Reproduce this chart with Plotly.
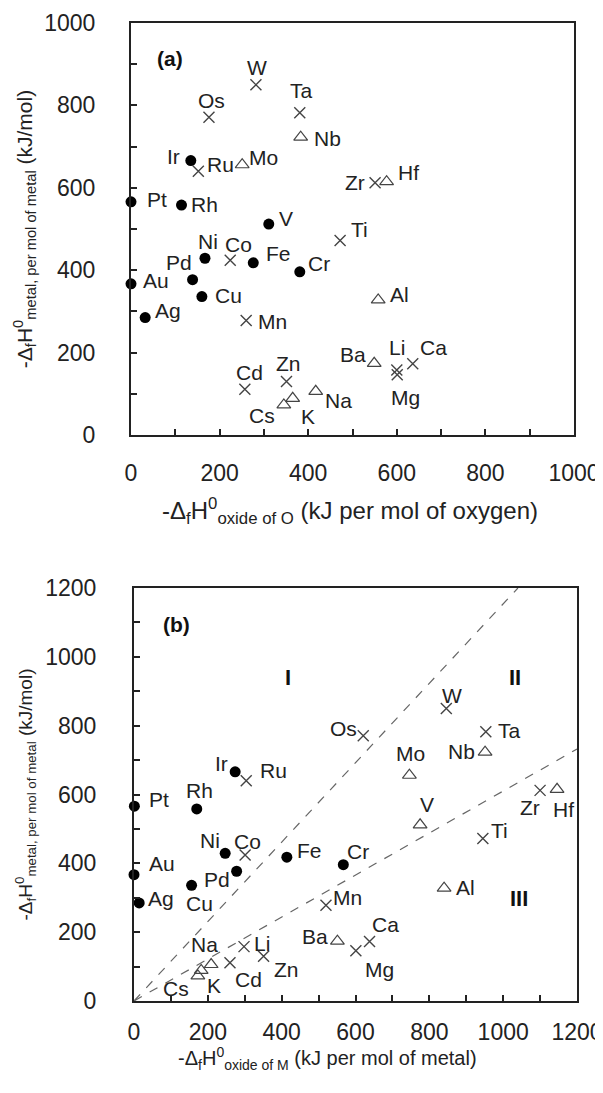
import plotly.graph_objects as go

# ---------------- data ----------------
elements = ["W", "Os", "Ta", "Nb", "Ir", "Ru", "Mo", "Pt", "Rh", "V", "Ti", "Zr", "Hf",
            "Ni", "Co", "Fe", "Cr", "Au", "Pd", "Cu", "Ag", "Mn", "Cd", "Zn",
            "Cs", "K", "Na", "Al", "Ba", "Li", "Mg", "Ca"]
# -dfH0 metal, per mol of metal (kJ/mol)
dh_metal = [850, 771, 782, 723, 666, 640, 656, 566, 558, 512, 472, 612, 615,
            429, 424, 418, 396, 367, 377, 336, 285, 278, 111, 130,
            73, 89, 106, 328, 174, 158, 146, 173]
# -dfH0 oxide, per mol of oxygen (panel a)
dh_oxide_per_O = [282, 176, 381, 383, 135, 152, 251, 0, 114, 311, 472, 551, 577,
                  167, 224, 276, 381, 0, 139, 160, 32, 260, 257, 351,
                  345, 365, 417, 558, 549, 600, 601, 636]
# -dfH0 oxide, per mol of metal (panel b)
dh_oxide_per_M = [846, 621, 953, 951, 274, 304, 746, 1, 170, 775, 945, 1100, 1146,
                  247, 301, 414, 567, 0, 278, 156, 14, 520, 260, 351,
                  173, 182, 209, 840, 551, 298, 601, 638]

circle_a = ["Pt", "Rh", "Ir", "Ni", "Pd", "Au", "Ag", "Cu", "Fe", "Cr", "V"]
cross_a = ["W", "Os", "Ta", "Ru", "Zr", "Ti", "Co", "Mn", "Cd", "Zn", "Li", "Mg", "Ca"]
tri_a = ["Nb", "Mo", "Hf", "Al", "Ba", "Cs", "K", "Na"]
circle_b = ["Pt", "Rh", "Ir", "Ni", "Pd", "Au", "Ag", "Cu", "Fe", "Cr"]
cross_b = cross_a
tri_b = ["Nb", "Mo", "Hf", "Al", "Ba", "Cs", "K", "Na", "V"]

# boundary lines in panel b
line1_x = [0, 1040]
line1_y = [0, 1200]
line2_x = [0, 1200]
line2_y = [0, 732]

region_labels = ["I", "II", "III"]
region_x = [417, 1032, 1044]
region_y = [939, 939, 299]

# ---------------- label offsets (px) ----------------
off_a = {"W": (1, -17), "Os": (3, -17), "Ta": (2, -22), "Nb": (27, 1), "Ir": (-17, -4),
         "Ru": (22, -7), "Mo": (21, -7), "Pt": (26, -2), "Rh": (23, -1), "V": (17, -6),
         "Ti": (19, -11), "Zr": (-20, 0), "Hf": (22, -9), "Ni": (3, -17), "Co": (8, -16),
         "Fe": (25, -9), "Cr": (19, -8), "Pd": (-14, -17), "Au": (25, -3), "Cu": (27, -1),
         "Ag": (23, -7), "Mn": (26, 1), "Cd": (5, -17), "Zn": (2, -18), "Cs": (-22, 11),
         "K": (15, 18), "Na": (23, 9), "Al": (21, -5), "Ba": (-21, -9), "Li": (0, -22),
         "Mg": (8, 23), "Ca": (21, -16)}
off_b = {"Ir": (-14, -8), "Ru": (27, -10), "Pt": (25, -7), "Rh": (3, -18), "Os": (-20, -7),
         "W": (6, -13), "Ta": (24, -1), "Nb": (-24, -1), "Mo": (1, -22), "V": (7, -20),
         "Zr": (-10, 17), "Hf": (6, 20), "Cr": (15, -13), "Ti": (17, -8), "Al": (21, -1),
         "Mn": (22, -8), "Ca": (16, -17), "Mg": (24, 19), "Ba": (-22, -5), "Ni": (-15, -13),
         "Co": (2, -14), "Fe": (23, -7), "Au": (28, -11), "Pd": (-20, 8), "Cu": (8, 18),
         "Ag": (22, -4), "Na": (-7, -20), "Li": (18, -3), "Zn": (23, 13), "Cd": (19, 17),
         "K": (13, 15), "Cs": (-22, 13)}

FONT = "Liberation Sans, Arial, sans-serif"
TXT = "#222222"
W, H = 603, 1093
OFF = 8  # page body margin in the browser


def px_x(sx):
    return (sx - OFF) / W


def px_y(sy):
    return 1 - (sy - OFF) / H


fig = go.Figure()

styles = {
    "circle": dict(symbol="circle", size=11, color="black", line=dict(width=0)),
    "cross": dict(symbol="x-thin-open", size=11, color="#444444", line=dict(width=1.4, color="#444444")),
    "tri": dict(symbol="triangle-up-open", size=12, color="#444444", line=dict(width=1.2, color="#444444")),
}


def add_group(names, xs, xref, yref):
    for kind, group in names:
        idx = [elements.index(n) for n in group]
        fig.add_trace(go.Scatter(
            x=[xs[i] for i in idx], y=[dh_metal[i] for i in idx],
            mode="markers", marker=styles[kind], xaxis=xref, yaxis=yref,
            cliponaxis=False, showlegend=False, hoverinfo="skip"))


add_group([("circle", circle_a), ("cross", cross_a), ("tri", tri_a)], dh_oxide_per_O, "x", "y")

fig.add_trace(go.Scatter(x=line1_x, y=line1_y, mode="lines", xaxis="x2", yaxis="y2",
                         line=dict(color="#666666", width=1.2, dash="dash"), showlegend=False))
fig.add_trace(go.Scatter(x=line2_x, y=line2_y, mode="lines", xaxis="x2", yaxis="y2",
                         line=dict(color="#666666", width=1.2, dash="dash"), showlegend=False))
add_group([("circle", circle_b), ("cross", cross_b), ("tri", tri_b)], dh_oxide_per_M, "x2", "y2")

ann = []
for i, n in enumerate(elements):
    dx, dy = off_a[n]
    ann.append(dict(x=dh_oxide_per_O[i], y=dh_metal[i], xref="x", yref="y", text=n,
                    showarrow=False, xshift=dx, yshift=-dy, font=dict(size=21, color=TXT)))
    dx, dy = off_b[n]
    ann.append(dict(x=dh_oxide_per_M[i], y=dh_metal[i], xref="x2", yref="y2", text=n,
                    showarrow=False, xshift=dx, yshift=-dy, font=dict(size=21, color=TXT)))

for t, rx, ry in zip(region_labels, region_x, region_y):
    ann.append(dict(x=rx, y=ry, xref="x2", yref="y2", text="<b>%s</b>" % t, showarrow=False,
                    font=dict(size=22, color="#111111")))

ann.append(dict(x=88, y=915, xref="x", yref="y", text="<b>(a)</b>", showarrow=False,
                font=dict(size=21, color="#111111")))
ann.append(dict(x=114, y=1093, xref="x2", yref="y2", text="<b>(b)</b>", showarrow=False,
                font=dict(size=21, color="#111111")))

# x axis titles
ann.append(dict(x=px_x(350), y=px_y(511), xref="paper", yref="paper", showarrow=False,
                text="-Δ<sub>f</sub>H<sup>0</sup><sub>oxide of O</sub> (kJ per mol of oxygen)",
                font=dict(size=24, color=TXT)))
ann.append(dict(x=px_x(327), y=px_y(1075), xref="paper", yref="paper", showarrow=False,
                text="-Δ<sub>f</sub>H<sup>0</sup><sub>oxide of M</sub> (kJ per mol of metal)",
                font=dict(size=20, color=TXT)))
ytitle = "-Δ<sub>f</sub>H<sup>0</sup><sub>metal, per mol of metal</sub> (kJ/mol)"

axis_common = dict(showline=True, linewidth=2, linecolor="#222222", mirror=True, automargin=False,
                   showgrid=False, zeroline=False, ticks="inside", ticklen=6, tickwidth=1.5,
                   tickcolor="#222222", dtick=200,
                   minor=dict(dtick=100, ticks="inside", ticklen=6, tickwidth=1.5, tickcolor="#222222"),
                   tickfont=dict(size=23, color=TXT, family=FONT))

fig.update_layout(
    width=W, height=H, autosize=False,
    margin=dict(l=0, r=0, t=0, b=0, autoexpand=False),
    paper_bgcolor="white", plot_bgcolor="white",
    font=dict(family=FONT, color=TXT),
    xaxis=dict(domain=[px_x(131), px_x(574)], range=[0, 1000], anchor="y", ticklabelstandoff=16, **axis_common),
    yaxis=dict(domain=[px_y(435), px_y(23)], range=[0, 1000], anchor="x", ticklabelstandoff=29,
               title=dict(text=ytitle, font=dict(size=21, color=TXT), standoff=6), **axis_common),
    xaxis2=dict(domain=[px_x(134), px_x(577)], range=[0, 1200], anchor="y2", ticklabelstandoff=9, **axis_common),
    yaxis2=dict(domain=[px_y(1001), px_y(588)], range=[0, 1200], anchor="x2", ticklabelstandoff=31,
                title=dict(text=ytitle, font=dict(size=19, color=TXT), standoff=8), **axis_common),
    annotations=ann,
)

fig.write_html("out.html")
